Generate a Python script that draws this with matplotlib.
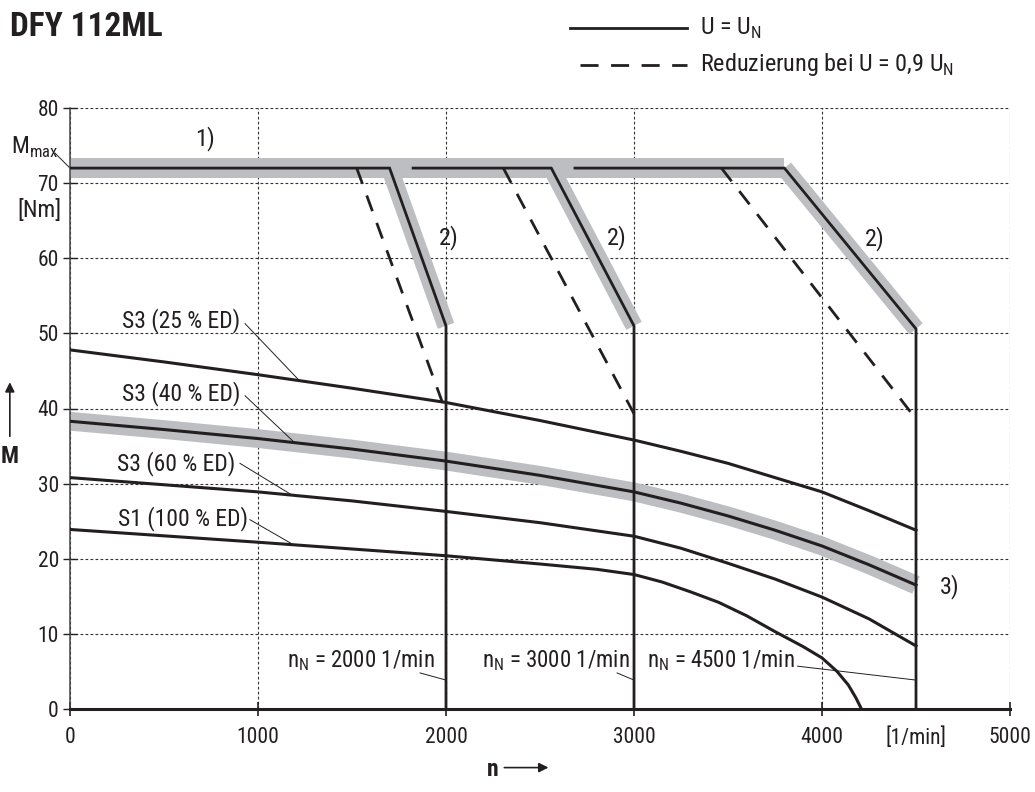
import matplotlib
matplotlib.use("Agg")
import matplotlib.pyplot as plt
import matplotlib.font_manager as fm
from matplotlib.lines import Line2D

# pick a narrow sans if one is installed (the reference uses a condensed grotesque)
pref = ['Roboto Condensed', 'Liberation Sans Narrow', 'Open Sans Condensed',
        'Noto Sans Condensed', 'DejaVu Sans Condensed', 'Arial Narrow']
available = {f.name for f in fm.fontManager.ttflist}
family, stretch = None, 'normal'
for p in pref:
    if p in available:
        family = p
        break
if family is None:
    for f in fm.fontManager.ttflist:
        if str(f.stretch) in ('condensed', 'semi-condensed', 'extra-condensed') and \
                f.name in ('DejaVu Sans', 'Noto Sans', 'Roboto', 'Open Sans', 'Liberation Sans'):
            family, stretch = f.name, 'condensed'
            break
if family is None:
    family = 'Roboto'

plt.rcParams['font.family'] = [family, 'DejaVu Sans']
plt.rcParams['font.stretch'] = stretch
plt.rcParams['mathtext.fontset'] = 'custom'
plt.rcParams['mathtext.rm'] = family + (':stretch=condensed' if stretch != 'normal' else '')

INK = '#231f20'
BAND = '#bdbec2'

# --- data ---
m_max = 72
# rated speed lines: start of flat part, corner, foot of the slope
n_rated = [2000, 3000, 4500]
flat_start = [0, 1825, 2686]
corner_n = [1700, 2560, 3800]
slope_end_m = [51, 51, 50.6]
# reduction at 0.9 U_N
dash_start_n = [1525, 2305, 3465]
dash_end_m = [39.5, 39.3, 38.6]

s3_25_n = [0, 500, 1000, 1500, 2000, 2500, 3000, 3250, 3500, 3750, 4000, 4250, 4500]
s3_25_m = [47.8, 46.2, 44.5, 42.7, 40.8, 38.4, 35.8, 34.3, 32.7, 30.8, 28.9, 26.4, 23.8]

s3_40_n = [0, 500, 1000, 1500, 2000, 2500, 3000, 3250, 3500, 3750, 4000, 4250, 4500]
s3_40_m = [38.3, 37.2, 36.0, 34.6, 33.0, 31.1, 28.9, 27.4, 25.7, 23.8, 21.7, 19.2, 16.5]

s3_60_n = [0, 1000, 1500, 2000, 2500, 3000, 3250, 3500, 3750, 4000, 4250, 4500]
s3_60_m = [30.8, 28.9, 27.7, 26.3, 24.8, 23.0, 21.4, 19.4, 17.3, 14.9, 12.0, 8.4]

s1_n = [0, 1000, 1500, 2000, 2500, 2800, 3000, 3150, 3300, 3450, 3600, 3750, 3900, 4000,
        4080, 4140, 4180, 4210]
s1_m = [23.9, 22.2, 21.3, 20.4, 19.3, 18.6, 17.9, 16.9, 15.6, 14.2, 12.4, 10.3, 8.3, 6.8,
        5.0, 3.2, 1.5, 0]

x_ticks = [0, 1000, 2000, 3000, 4000, 5000]
y_ticks = [0, 10, 20, 30, 40, 50, 60, 70, 80]

fig = plt.figure(figsize=(10.35, 7.92), dpi=100)
ax = fig.add_axes([70/1035, 83/792, 940/1035, 601/792])
ax.set_xlim(0, 5000)
ax.set_ylim(0, 80)

# gray bands (highlighted limit curves)
ax.plot([0, corner_n[2]], [m_max, m_max], color=BAND, lw=14.4,
        solid_capstyle='butt', zorder=2)
for i in range(3):
    ax.plot([corner_n[i], n_rated[i]], [m_max, slope_end_m[i]], color=BAND,
            lw=12.5, solid_capstyle='butt', zorder=2)
ax.plot(s3_40_n, s3_40_m, color=BAND, lw=13.5, solid_capstyle='butt', zorder=2)

# solid limit lines for U = U_N and dashed reduction lines
for i in range(3):
    ax.plot([flat_start[i], corner_n[i], n_rated[i], n_rated[i]],
            [m_max, m_max, slope_end_m[i], 0], color=INK, lw=2.0,
            solid_joinstyle='miter', zorder=3)
    ax.plot([dash_start_n[i], n_rated[i]], [m_max, dash_end_m[i]], color=INK,
            lw=2.0, linestyle=(0, (6, 4.5)), zorder=3)

for n, m in [(s3_25_n, s3_25_m), (s3_40_n, s3_40_m), (s3_60_n, s3_60_m), (s1_n, s1_m)]:
    ax.plot(n, m, color=INK, lw=2.2, zorder=3, solid_joinstyle='round')

# axes styling
ax.set_xticks(x_ticks)
ax.set_yticks(y_ticks)
ax.set_xticks([4500], ['[1/min]'], minor=True)
ax.grid(True, which='major', linestyle=(0, (2.5, 2)), linewidth=0.8, color='#333333')
ax.set_axisbelow(True)
for s in ['top', 'right']:
    ax.spines[s].set_visible(False)
ax.spines['left'].set_linewidth(1.1)
ax.spines['left'].set_color('#444444')
ax.spines['bottom'].set_linewidth(2.2)
ax.spines['bottom'].set_color(INK)
ax.tick_params(axis='x', which='major', direction='inout', length=10, width=1.2,
               pad=8, labelsize=15.5, colors=INK)
ax.tick_params(axis='x', which='minor', length=0, pad=13, labelsize=15.5, colors=INK)
ax.tick_params(axis='y', direction='inout', length=10, width=1.0, pad=3,
               labelsize=15.5, colors=INK)

lab = dict(fontsize=17, color=INK)
# curve labels with leader lines
curve_labels = [
    ('S3 (25 % ED)', 904, 51.7, (931, 51.3), (1213, 43.9)),
    ('S3 (40 % ED)', 904, 42.0, (931, 41.7), (1197, 35.4)),
    ('S3 (60 % ED)', 878, 32.7, (904, 32.7), (1186, 28.4)),
    ('S1 (100 % ED)', 947, 25.4, (957, 25.2), (1186, 21.9)),
]
for txt, x, y, p0, p1 in curve_labels:
    ax.text(x, y, txt, ha='right', va='center', **lab)
    ax.plot([p0[0], p1[0]], [p0[1], p1[1]], color=INK, lw=0.7, zorder=3)

ax.text(718, 75.9, '1)', ha='center', va='center', fontsize=17.5, color=INK)
for x, y in [(2012, 62.8), (2908, 62.8), (4282, 62.6)]:
    ax.text(x, y, '2)', ha='center', va='center', fontsize=17.5, color=INK)
ax.text(4681, 16.3, '3)', ha='center', va='center', fontsize=17.5, color=INK)

# rated speed labels
rated_labels = [
    ('n$_\\mathrm{N}$ = 2000 1/min', 1941, (1862, 4.8), (2000, 3.85)),
    ('n$_\\mathrm{N}$ = 3000 1/min', 2979, (2910, 4.8), (3000, 3.85)),
    ('n$_\\mathrm{N}$ = 4500 1/min', 3856, (3870, 5.7), (4500, 3.85)),
]
for txt, x, p0, p1 in rated_labels:
    ax.text(x, 6.4, txt, ha='right', va='center', fontsize=16.5, color=INK)
    ax.plot([p0[0], p1[0]], [p0[1], p1[1]], color=INK, lw=0.7, zorder=3)

# y-axis annotations
ax.text(-64, 74.8, 'M$_\\mathrm{max}$', ha='right', va='center', clip_on=False, **lab)
ax.plot([-80, 0], [74.0, 72.0], color=INK, lw=0.7, clip_on=False)
ax.text(-43, 66.3, '[Nm]', ha='right', va='center', clip_on=False, **lab)
ax.text(-320, 33.6, 'M', ha='center', va='center', fontsize=17, fontweight='bold',
        color=INK, clip_on=False)
ax.annotate('', xy=(-320, 43.5), xytext=(-320, 36.3), annotation_clip=False,
            arrowprops=dict(arrowstyle='-|>', color=INK, lw=1.2, mutation_scale=14,
                            shrinkA=0, shrinkB=0))
ax.text(2250, -8.1, 'n', ha='center', va='center', fontsize=17, fontweight='bold',
        color=INK, clip_on=False)
ax.annotate('', xy=(2545, -7.8), xytext=(2310, -7.8), annotation_clip=False,
            arrowprops=dict(arrowstyle='-|>', color=INK, lw=1.2, mutation_scale=14,
                            shrinkA=0, shrinkB=0))

# title
fig.text(10/1035, 1 - 27/792, 'DFY 112ML', fontsize=24, fontweight='bold',
         color=INK, ha='left', va='center')

# legend drawn in figure pixels
def fp(px, py):
    return px / 1035, 1 - py / 792

(x0, y0), (x1, _) = fp(570, 28), fp(687, 28)
fig.add_artist(Line2D([x0, x1], [y0, y0], transform=fig.transFigure, color=INK, lw=2.0))
(x0, y1), (x1, _) = fp(580, 65), fp(687, 65)
fig.add_artist(Line2D([x0, x1], [y1, y1], transform=fig.transFigure, color=INK, lw=2.0,
                      linestyle=(0, (6.5, 4.5))))
fig.text(fp(700, 0)[0], y0, 'U = U$_\\mathrm{N}$', ha='left', va='center',
         fontsize=17.5, color=INK)
fig.text(fp(700, 0)[0], y1, 'Reduzierung bei U = 0,9 U$_\\mathrm{N}$', ha='left',
         va='center', fontsize=17.5, color=INK)

fig.savefig('out.png', dpi=100, facecolor='white')
